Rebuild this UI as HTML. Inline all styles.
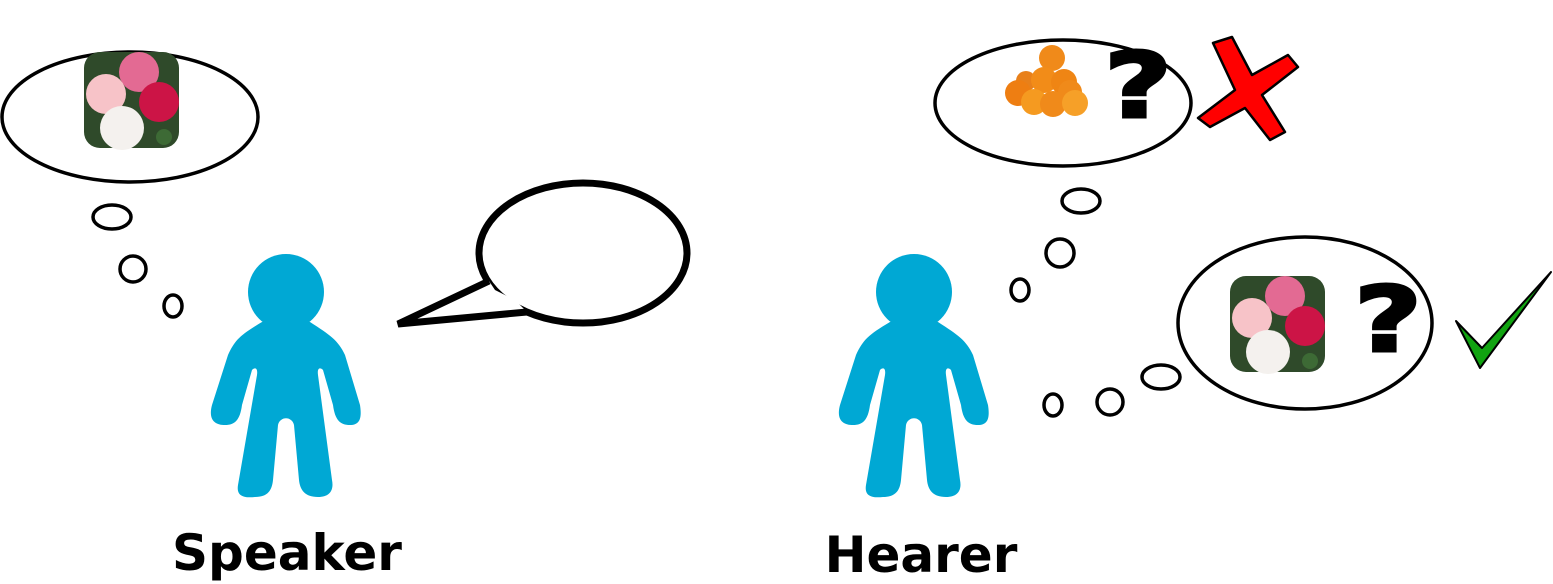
<!DOCTYPE html>
<html><head><meta charset="utf-8"><style>
html,body{margin:0;padding:0;background:#fff;}
svg{display:block;}
text{font-family:"DejaVu Sans","Liberation Sans",sans-serif;font-weight:bold;}
</style></head><body>
<svg width="1553" height="584" viewBox="0 0 1553 584">
<defs>
<g id="person">
<circle cx="286" cy="292" r="38" fill="#00a8d4"/>
<path fill="#00a8d4" d="M262,322 C240,335 235,340 228,355 L212,405 C208,420 215,425 225,425 C235,425 240,420 242,405 L252,370 C255,367 258,368 257,375 L238,485 C236,497 245,498 255,497 C268,497 272,490 273,480 L278,425 C280,416 292,416 294,425 L299,480 C300,490 305,497 318,497 C330,497 334,490 332,480 L318,375 C317,368 320,367 323,370 L333,405 C335,420 340,425 350,425 C360,425 362,418 360,405 L345,355 C338,340 330,335 310,322 Z"/>
</g>
<g id="flowers">
<rect x="0" y="0" width="95" height="96" rx="16" fill="#2f4a2a"/>
<circle cx="55" cy="20" r="20" fill="#e36a93"/>
<circle cx="22" cy="42" r="20" fill="#f7c3c8"/>
<circle cx="75" cy="50" r="20" fill="#cc1446"/>
<circle cx="38" cy="76" r="22" fill="#f4f1ee"/>
<circle cx="80" cy="85" r="8" fill="#3d6a35"/>
</g>
</defs>

<use href="#person"/>
<g fill="none" stroke="#000" stroke-width="3.5">
<ellipse cx="130" cy="117" rx="128" ry="65"/>
<ellipse cx="112" cy="217" rx="19" ry="12"/>
<circle cx="133" cy="269" r="13"/>
<ellipse cx="173" cy="306" rx="9" ry="11"/>
</g>
<use href="#flowers" x="84" y="52"/>
<g>
<ellipse cx="583" cy="253" rx="104" ry="70" fill="#fff" stroke="#000" stroke-width="7"/>
<polygon points="489,281 398,324 527,312 515,300 495,290" fill="#fff" stroke="none"/>
<polyline points="489,281 398,324 527,312" fill="none" stroke="#000" stroke-width="7" stroke-linejoin="miter"/>
</g>
<text x="287" y="570" font-size="50" text-anchor="middle">Speaker</text>

<use href="#person" x="628"/>
<g fill="none" stroke="#000" stroke-width="3.5">
<ellipse cx="1063" cy="103" rx="128" ry="63"/>
<ellipse cx="1081" cy="201" rx="19" ry="12"/>
<circle cx="1060" cy="253" r="14"/>
<ellipse cx="1020" cy="290" rx="9" ry="11"/>
</g>
<g>
<circle cx="1052" cy="58" r="13" fill="#f08a1a"/>
<circle cx="1026" cy="81" r="10" fill="#e8801a"/>
<circle cx="1018" cy="93" r="13" fill="#ee7e12"/>
<circle cx="1044" cy="80" r="13" fill="#f28c18"/>
<circle cx="1064" cy="82" r="13" fill="#ef8514"/>
<circle cx="1070" cy="92" r="12" fill="#f08a1a"/>
<circle cx="1034" cy="102" r="13" fill="#f59a20"/>
<circle cx="1053" cy="104" r="13" fill="#f08a1a"/>
<circle cx="1075" cy="103" r="13" fill="#f6a028"/>
</g>
<text x="0" y="0" font-size="90" text-anchor="middle" stroke="#000" stroke-width="3" transform="translate(1138,117) scale(1.3,1)">?</text>
<polygon points="1213,43 1232,37 1252,75 1288,55 1298,67 1262,95 1285,132 1270,140 1245,108 1210,127 1198,118 1235,90" fill="#ff0000" stroke="#000" stroke-width="2.5" stroke-linejoin="round"/>

<g fill="none" stroke="#000" stroke-width="3.5">
<ellipse cx="1305" cy="323" rx="127" ry="86"/>
<ellipse cx="1161" cy="377" rx="19" ry="12"/>
<circle cx="1110" cy="402" r="13"/>
<ellipse cx="1053" cy="405" rx="9" ry="11"/>
</g>
<use href="#flowers" x="1230" y="276"/>
<text x="0" y="0" font-size="90" text-anchor="middle" stroke="#000" stroke-width="3" transform="translate(1388,351) scale(1.3,1)">?</text>
<polygon points="1456,321 1482,348 1551,272 1480,368" fill="#11a311" stroke="#000" stroke-width="2" stroke-linejoin="round"/>
<text x="921" y="572" font-size="50" text-anchor="middle">Hearer</text>
</svg>
</body></html>
